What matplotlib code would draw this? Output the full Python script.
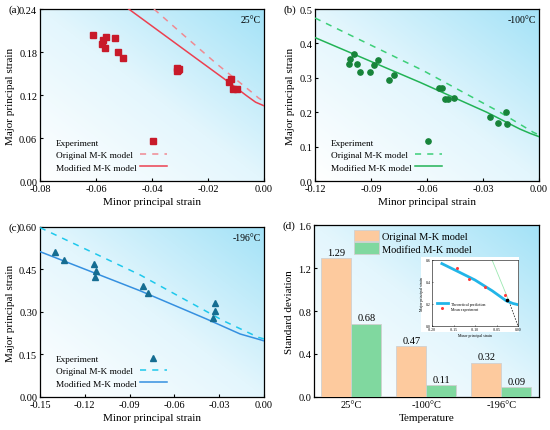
import numpy as np
import matplotlib
matplotlib.use("Agg")
from matplotlib import pyplot as plt
from matplotlib.ticker import FormatStrFormatter, MultipleLocator
from matplotlib.colors import LinearSegmentedColormap
from matplotlib.patches import Rectangle

plt.rcParams['font.family'] = ['Liberation Serif', 'DejaVu Serif']
plt.rcParams['axes.unicode_minus'] = False

tick_sz = 7.5
label_sz = 8
legend_sz = 6.7

# ---- (a) 25 C
a_exp_x = [-0.0612, -0.0574, -0.0565, -0.0578, -0.0569, -0.0531, -0.0521, -0.0505,
           -0.0309, -0.0308, -0.0310, -0.0305, -0.0117, -0.0125, -0.0110, -0.0097]
a_exp_y = [0.204, 0.197, 0.201, 0.191, 0.186, 0.199, 0.180, 0.171,
           0.158, 0.155, 0.153, 0.157, 0.142, 0.1375, 0.128, 0.128]
a_orig_x = [-0.0393, -0.030, -0.0169, -0.0044, -0.002, 0.0]
a_orig_y = [0.24, 0.208, 0.1635, 0.124, 0.116, 0.111]
a_mod_x = [-0.0483, -0.024, -0.0133, -0.0062, -0.003, 0.0]
a_mod_y = [0.24, 0.1705, 0.140, 0.119, 0.110, 0.105]

# ---- (b) -100 C
b_exp_x = [-0.1018, -0.1015, -0.0991, -0.0974, -0.0957, -0.0906, -0.0886, -0.0865,
           -0.0806, -0.0777, -0.0535, -0.0519, -0.0503, -0.0489, -0.0453,
           -0.0262, -0.0219, -0.0178, -0.0171]
b_exp_y = [0.339, 0.356, 0.369, 0.339, 0.317, 0.318, 0.337, 0.352,
           0.294, 0.309, 0.269, 0.271, 0.237, 0.237, 0.242,
           0.185, 0.168, 0.200, 0.167]
b_orig_x = [-0.12, -0.062, -0.0209, -0.003, 0.0]
b_orig_y = [0.474, 0.321, 0.200, 0.1415, 0.134]
b_mod_x = [-0.12, -0.0638, -0.028, -0.0102, -0.0048, 0.0]
b_mod_y = [0.417, 0.287, 0.200, 0.151, 0.1386, 0.129]

# ---- (c) -196 C
c_exp_x = [-0.1397, -0.1342, -0.1139, -0.1123, -0.1134, -0.0809, -0.0780,
           -0.0328, -0.0330, -0.0339]
c_exp_y = [0.512, 0.4835, 0.4706, 0.445, 0.4235, 0.393, 0.367,
           0.3306, 0.305, 0.280]
c_orig_x = [-0.15, -0.083, -0.0272, -0.0038, 0.0]
c_orig_y = [0.598, 0.431, 0.269, 0.2106, 0.205]
c_mod_x = [-0.15, -0.083, -0.0384, -0.016, -0.0027, 0.0]
c_mod_y = [0.513, 0.375, 0.275, 0.2224, 0.2024, 0.198]

# ---- (d) standard deviation
temps = ["25°C", "-100°C", "-196°C"]
sd_orig = [1.29, 0.47, 0.32]
sd_mod = [0.68, 0.11, 0.09]

# ---- inset
ins_theo_x = [-0.177, -0.14, -0.10, -0.06, -0.0278, -0.012, 0.0]
ins_theo_y = [0.567, 0.496, 0.418, 0.32, 0.23, 0.205, 0.194]
ins_mean_x = [-0.1427, -0.1137, -0.0763, -0.0298]
ins_mean_y = [0.527, 0.430, 0.355, 0.279]
ins_green_x = [-0.0603, -0.0229]
ins_green_y = [0.60, 0.245]
ins_dash_x = [-0.0229, 0.0]
ins_dash_y = [0.245, 0.0]
ins_pt_x = [-0.025]
ins_pt_y = [0.236]

bg_cmap = LinearSegmentedColormap.from_list("bg", ["#ffffff", "#e3f6fd", "#a3e2f7"])
gx, gy = np.meshgrid(np.linspace(0, 1, 200), np.linspace(0, 1, 200))
grad = (gx + gy) / 2.0


def add_bg(ax):
    ax.imshow(grad, extent=[0, 1, 0, 1], transform=ax.transAxes, origin="lower",
              cmap=bg_cmap, aspect="auto", zorder=0, interpolation="bilinear")


def style(ax):
    ax.tick_params(axis="both", which="major", direction="in", length=2.5,
                   width=0.8, labelsize=tick_sz, pad=2)
    for s in ax.spines.values():
        s.set_linewidth(0.9)


fig = plt.figure(figsize=(5.5, 4.31), dpi=100)

panels = [
    ([0.0727, 0.5777, 0.4073, 0.399], a_exp_x, a_exp_y, a_orig_x, a_orig_y, a_mod_x, a_mod_y,
     "s", "#c81a2a", "#f08a92", "#ec4050", (-0.08, 0.0), 0.02, (0, 0.24), 0.06,
     "%.2f", "%.2f", "25°C", "(a)"),
    ([0.5727, 0.5777, 0.4073, 0.399], b_exp_x, b_exp_y, b_orig_x, b_orig_y, b_mod_x, b_mod_y,
     "o", "#17843a", "#3ccf78", "#22b356", (-0.12, 0.0), 0.03, (0, 0.5), 0.1,
     "%.2f", "%.1f", "-100°C", "(b)"),
    ([0.0727, 0.0766, 0.4073, 0.3944], c_exp_x, c_exp_y, c_orig_x, c_orig_y, c_mod_x, c_mod_y,
     "^", "#156d92", "#1ec8ec", "#3590e0", (-0.15, 0.0), 0.03, (0, 0.6), 0.15,
     "%.2f", "%.2f", "-196°C", "(c)"),
]

leg_labels = ["Experiment", "Original M-K model", "Modified M-K model"]

for (pos, ex, ey, ox, oy, mx, my, mk, mcol, ocol, lcol, xl, xs, yl, ys,
     xf, yf, temp, tag) in panels:
    ax = fig.add_axes(pos)
    add_bg(ax)
    h1, = ax.plot(ex, ey, linestyle="none", marker=mk, markersize=3.8, color=mcol,
                  zorder=4)
    h2, = ax.plot(ox, oy, linestyle=(0, (4, 4)), color=ocol, linewidth=1.1, zorder=3)
    h3, = ax.plot(mx, my, linestyle="-", color=lcol, linewidth=1.1, zorder=3)
    ax.set_xlim(xl)
    ax.set_ylim(yl)
    ax.xaxis.set_major_locator(MultipleLocator(xs))
    ax.yaxis.set_major_locator(MultipleLocator(ys))
    ax.xaxis.set_major_formatter(FormatStrFormatter(xf))
    ax.yaxis.set_major_formatter(FormatStrFormatter(yf))
    ax.set_xlabel("Minor principal strain", fontsize=label_sz, labelpad=3)
    ax.set_ylabel("Major principal strain", fontsize=label_sz, labelpad=3)
    style(ax)
    ax.text(0.985, 0.965, temp, transform=ax.transAxes, ha="right", va="top",
            fontsize=7)
    # labels (left aligned) and handles (own column) as two legends
    kw = dict(loc="lower left", frameon=False, fontsize=legend_sz, labelspacing=0.42,
              borderpad=0, borderaxespad=0)
    leg_t = ax.legend([h1, h2, h3], leg_labels, bbox_to_anchor=(0.07, 0.055),
                      handlelength=0, handletextpad=0, **kw)
    for hh in leg_t.legend_handles:
        hh.set_visible(False)
    ax.add_artist(leg_t)
    ax.legend([h1, h2, h3], [" ", " ", " "], bbox_to_anchor=(0.445, 0.055),
              handlelength=2.9, handletextpad=0, **kw)
    fig.text(pos[0] - 0.058, pos[1] + pos[3], tag, fontsize=8, ha="left", va="center")

# ---- (d)
axd = fig.add_axes([0.5709, 0.0766, 0.4091, 0.399])
add_bg(axd)
xi = np.arange(len(temps))
w = 0.4
axd.bar(xi - w / 2, sd_orig, w, color="#fdca9e", edgecolor="#d0d0d0",
        linewidth=0.6, label="Original M-K model", zorder=3)
axd.bar(xi + w / 2, sd_mod, w, color="#80d89f", edgecolor="#d0d0d0",
        linewidth=0.6, label="Modified M-K model", zorder=3)
for xv, v in zip(xi - w / 2, sd_orig):
    axd.text(xv, v + 0.015, "%.2f" % v, ha="center", va="bottom", fontsize=7.5)
for xv, v in zip(xi + w / 2, sd_mod):
    axd.text(xv, v + 0.015, "%.2f" % v, ha="center", va="bottom", fontsize=7.5)
axd.set_xlim(-0.5, 2.5)
axd.set_ylim(0, 1.6)
axd.yaxis.set_major_locator(MultipleLocator(0.4))
axd.yaxis.set_major_formatter(FormatStrFormatter("%.1f"))
axd.set_xticks(xi)
axd.set_xticklabels(temps)
axd.set_xlabel("Temperature", fontsize=label_sz, labelpad=3)
axd.set_ylabel("Standard deviation", fontsize=label_sz, labelpad=3)
style(axd)
axd.legend(loc="upper left", bbox_to_anchor=(0.15, 1.01), frameon=False,
           fontsize=7.5, handlelength=2.4, handleheight=1.3, labelspacing=0.15,
           handletextpad=0.3, borderaxespad=0.2)
fig.text(0.5709 - 0.058, 0.0766 + 0.399, "(d)", fontsize=8, ha="left", va="center")

# ---- inset
fig.add_artist(Rectangle((421 / 550, 1 - 333 / 431), 98 / 550, 75 / 431,
                         transform=fig.transFigure, facecolor="white",
                         edgecolor="none", zorder=3))
axi = fig.add_axes([432 / 550, 1 - 327 / 431, 86 / 550, 66 / 431])
axi.set_zorder(5)
axi.plot(ins_green_x, ins_green_y, color="#9be8b0", linewidth=0.6)
axi.plot(ins_dash_x, ins_dash_y, color="#333333", linewidth=0.6, linestyle=(0, (2, 1.5)))
axi.plot(ins_theo_x, ins_theo_y, color="#22b5e8", linewidth=2.0,
         label="Theoretical prediction")
axi.plot(ins_mean_x, ins_mean_y, linestyle="none", marker="o", markersize=1.2,
         color="#ff3a3a", label="Mean experiment")
axi.plot(ins_pt_x, ins_pt_y, linestyle="none", marker="o", markersize=1.6, color="black")
axi.set_xlim(-0.2, 0.0)
axi.set_ylim(0.0, 0.6)
axi.xaxis.set_major_locator(MultipleLocator(0.05))
axi.yaxis.set_major_locator(MultipleLocator(0.2))
axi.xaxis.set_major_formatter(FormatStrFormatter("%.2f"))
axi.yaxis.set_major_formatter(FormatStrFormatter("%.1f"))
axi.tick_params(axis="both", direction="in", length=1, width=0.4, labelsize=2.8, pad=1)
for s in axi.spines.values():
    s.set_linewidth(0.4)
axi.set_xlabel("Minor principal strain", fontsize=2.8, labelpad=1)
axi.set_ylabel("Major principal strain", fontsize=2.8, labelpad=1)
axi.legend(loc="lower left", bbox_to_anchor=(0.03, 0.2), frameon=False, fontsize=2.8,
           handlelength=3, labelspacing=0.3, borderaxespad=0.1)

plt.savefig("out.png", dpi=100)
